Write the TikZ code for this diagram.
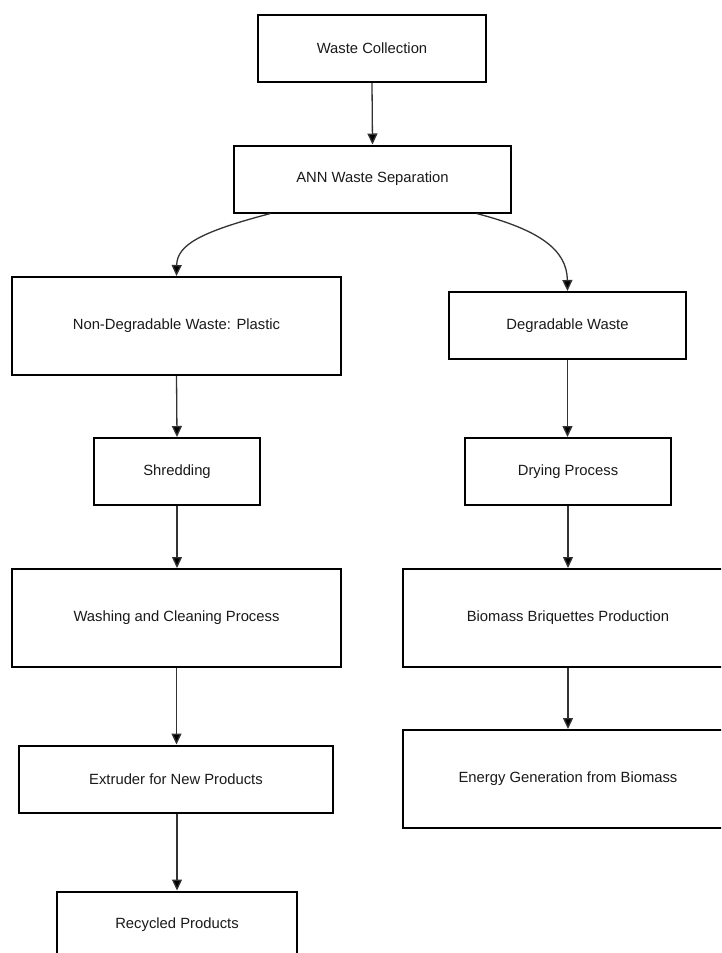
\documentclass[tikz,border=0pt]{standalone}
\usepackage{fontspec}
\setmainfont{Liberation Sans}
\usetikzlibrary{arrows.meta}
\begin{document}
\begin{tikzpicture}[x=1pt,y=-1pt,
  box/.style={draw=black,line width=2pt,minimum height=#1,inner sep=0pt,font=\fontsize{14.8}{17}\selectfont,text=black!90},
  box/.default=67pt,
  conn/.style={draw=black!80,line width=1.3pt,-{Triangle[length=11pt,width=10pt,fill=black]}}]
\useasboundingbox (0,0) rectangle (721,953);
\clip (0,0) rectangle (721,953);
\node[box,minimum width=228pt] (wc) at (372,48.5) {Waste Collection};
\node[box,minimum width=277pt] (ann) at (372.5,179) {ANN Waste Separation};
\node[box=98pt,minimum width=329pt] (nd) at (176.5,326) {Non-Degradable Waste: Plastic};
\node[box,minimum width=237pt] (dg) at (567.5,325.5) {Degradable Waste};
\node[box,minimum width=166pt] (sh) at (177,471.5) {Shredding};
\node[box,minimum width=206pt] (dr) at (568,471.5) {Drying Process};
\node[box=98pt,minimum width=329pt] (wa) at (176.5,618) {Washing and Cleaning Process};
\node[box=98pt,minimum width=330pt] (bb) at (568,618) {Biomass Briquettes Production};
\node[box,minimum width=314pt] (ex) at (176,779) {Extruder for New Products};
\node[box=98pt,minimum width=330pt] (eg) at (568,779) {Energy Generation from Biomass};
\node[box,minimum width=240pt] (rp) at (177,925) {Recycled Products};
\draw[conn] (wc.south) -- (ann.north);
\draw[conn] ([xshift=-102pt]ann.south) .. controls (200,232) and (177,245) .. (nd.north);
\draw[conn] ([xshift=104pt]ann.south) .. controls (540,230) and (567,250) .. (dg.north);
\draw[conn] (nd.south) -- (sh.north);
\draw[conn] (sh.south) -- (sh.south |- wa.north);
\draw[conn] (wa.south) -- (ex.north -| wa.south);
\draw[conn] (ex.south -| rp.north) -- (rp.north);
\draw[conn] (dg.south) -- (dg.south |- dr.north);
\draw[conn] (dr.south) -- (bb.north);
\draw[conn] (bb.south) -- (eg.north);
\end{tikzpicture}
\end{document}
